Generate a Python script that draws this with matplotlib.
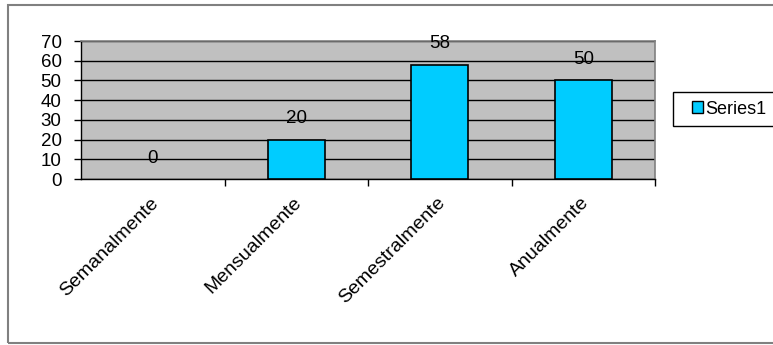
import matplotlib
matplotlib.use("Agg")
import matplotlib.pyplot as plt
from matplotlib.patches import Rectangle
from matplotlib.transforms import ScaledTranslation

categories = ["Semanalmente", "Mensualmente", "Semestralmente", "Anualmente"]
values = [0, 20, 58, 50]
series_name = "Series1"
yticks = [0, 10, 20, 30, 40, 50, 60, 70]

plt.rcParams['font.family'] = ['Liberation Sans', 'DejaVu Sans']

W, H = 773, 345
fig = plt.figure(figsize=(W / 100, H / 100), dpi=100)
ax = fig.add_axes([81 / W, 1 - 179 / H, (655 - 81) / W, (179 - 41) / H])
ax.set_facecolor('#C0C0C0')

x = list(range(len(categories)))
bars = ax.bar(x, values, width=0.4, color='#00CCFF', edgecolor='black', linewidth=1.2, zorder=3, label=series_name)
for b, v in zip(bars, values):
    if v == 0:
        b.set_linewidth(0)

for xi, v in zip(x, values):
    ax.annotate(str(v), (xi, v), xytext=(0, 15), textcoords='offset points',
                ha='center', va='center', fontsize=13.5, zorder=4)

ax.set_xlim(-0.5, len(categories) - 0.5)
ax.set_ylim(0, 70)
ax.set_yticks(yticks)
ax.set_yticklabels([str(t) for t in yticks], fontsize=13.5)
ax.yaxis.grid(True, color='black', linewidth=1)
ax.set_axisbelow(True)
ax.tick_params(axis='y', length=5, width=1, direction='out', pad=9)

ax.set_xticks(x)
ax.set_xticklabels(categories, rotation=45, ha='right', rotation_mode='anchor', fontsize=14)
ax.tick_params(axis='x', length=0, pad=11)
shift = ScaledTranslation(-3 / 100, 0, fig.dpi_scale_trans)
for lab in ax.get_xticklabels():
    lab.set_transform(lab.get_transform() + shift)
ax.set_xticks([i + 0.5 for i in range(len(categories))], minor=True)
ax.tick_params(axis='x', which='minor', length=5, width=1, direction='out')

for s in ['left', 'bottom']:
    ax.spines[s].set_color('black')
    ax.spines[s].set_linewidth(1)
for s in ['top', 'right']:
    ax.spines[s].set_color('#808080')
    ax.spines[s].set_linewidth(1.2)

# outer chart border
fig.patches.append(Rectangle((8 / W, 1 - 343 / H), (W + 5 - 8) / W, (343 - 5) / H,
                             transform=fig.transFigure, fill=False,
                             edgecolor='#808080', linewidth=1.5))

# legend frame
fig.patches.append(Rectangle((673 / W, 1 - 126 / H), (W + 5 - 673) / W, (126 - 92) / H,
                             transform=fig.transFigure, fill=True, facecolor='white',
                             edgecolor='black', linewidth=1, zorder=1))
handle = Rectangle((0, 0), 1, 1, facecolor='#00CCFF', edgecolor='black', linewidth=1)
leg = fig.legend([handle], [series_name], loc='center left',
                 bbox_to_anchor=(692 / W, 1 - 109 / H), fontsize=13,
                 frameon=False,
                 handlelength=0.6, handleheight=0.6, handletextpad=0.15,
                 borderpad=0, borderaxespad=0)
leg.set_zorder(5)

fig.savefig("out.png", dpi=100)
